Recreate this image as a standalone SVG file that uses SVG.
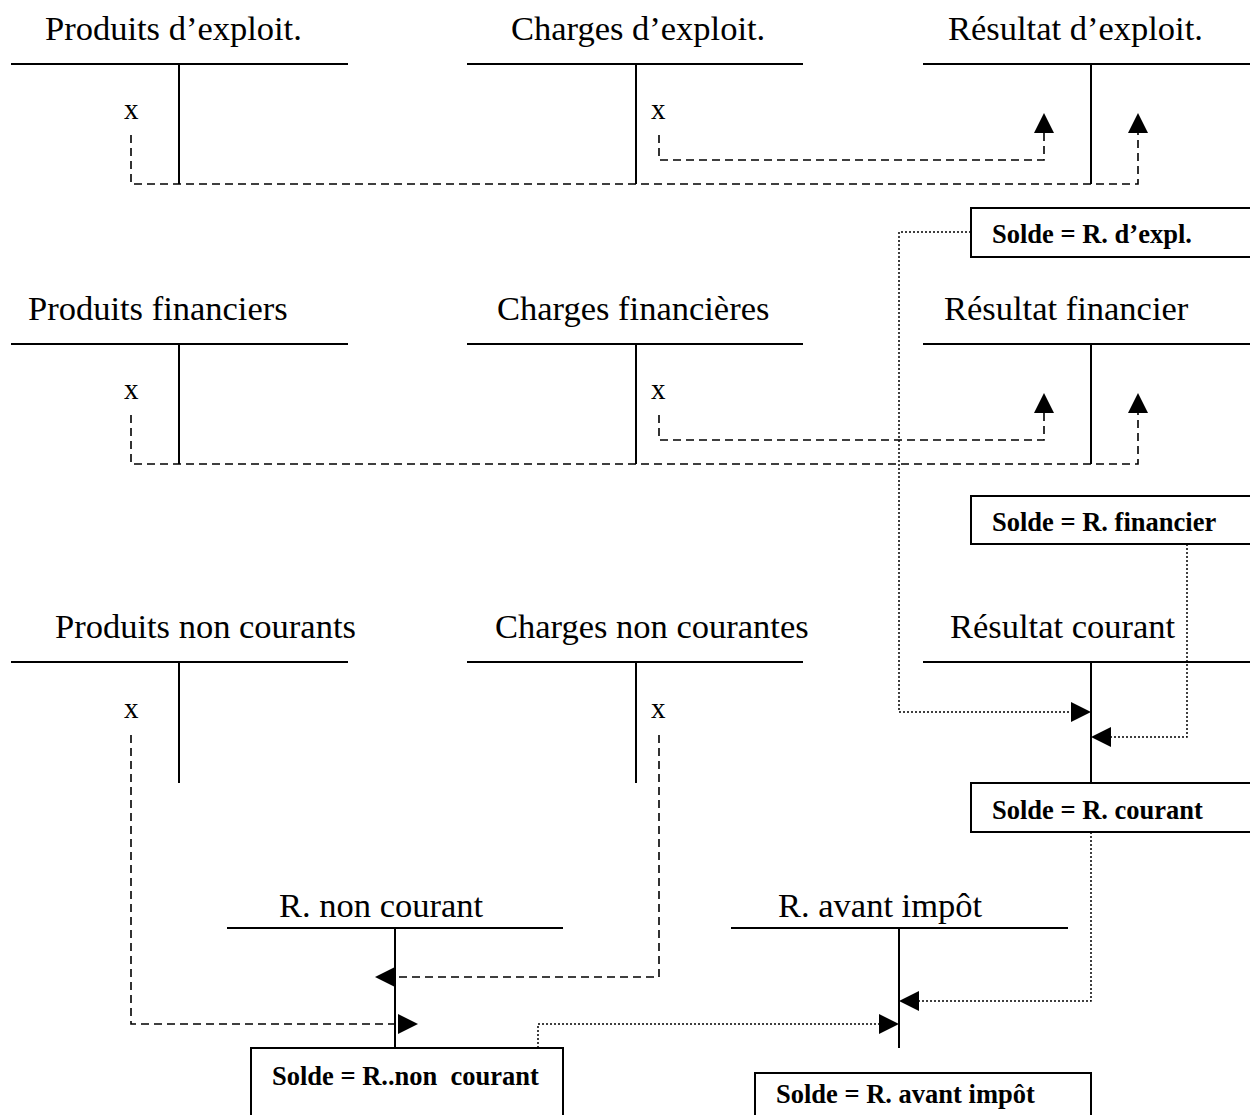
<svg xmlns="http://www.w3.org/2000/svg" width="1250" height="1115" viewBox="0 0 1250 1115">
<style>
.t{font-family:"Liberation Serif","Times New Roman",serif;font-size:34.5px;fill:#000}
.x{font-family:"Liberation Serif","Times New Roman",serif;font-size:29px;fill:#000}
.b{font-family:"Liberation Serif","Times New Roman",serif;font-size:26.5px;font-weight:bold;fill:#000;white-space:pre}
.s{stroke:#000;stroke-width:2;fill:none}
.box{stroke:#000;stroke-width:2;fill:#fff}
.d{stroke:#000;stroke-width:1.6;fill:none;stroke-dasharray:8,5}
.o{stroke:#000;stroke-width:1.5;fill:none;stroke-dasharray:2,2}
</style>
<defs>
<marker id="ar" viewBox="0 0 20 20" refX="0" refY="10" markerWidth="20" markerHeight="20" markerUnits="userSpaceOnUse" orient="auto">
<path d="M0,0 L20,10 L0,20 z" fill="#000" stroke="none"/>
</marker>
</defs>
<rect width="1250" height="1115" fill="#fff"/>

<g id="produits-exploit">
<text class="t" x="45" y="40">Produits d’exploit.</text>
<path class="s" d="M11,64 H348 M179,64 V184"/>
<text class="x" x="124" y="119">x</text>
</g>
<g id="charges-exploit">
<text class="t" x="511" y="40">Charges d’exploit.</text>
<path class="s" d="M467,64 H803 M636,64 V184"/>
<text class="x" x="651" y="119">x</text>
</g>
<g id="resultat-exploit">
<text class="t" x="948" y="40">Résultat d’exploit.</text>
<path class="s" d="M923,64 H1250 M1091,64 V184"/>
</g>
<g id="solde-expl">
<rect class="box" x="971" y="208" width="290" height="49"/>
<text class="b" x="992" y="243">Solde = R. d’expl.</text>
</g>

<g id="produits-financiers">
<text class="t" x="28" y="320">Produits financiers</text>
<path class="s" d="M11,344 H348 M179,344 V464"/>
<text class="x" x="124" y="399">x</text>
</g>
<g id="charges-financieres">
<text class="t" x="497" y="320">Charges financières</text>
<path class="s" d="M467,344 H803 M636,344 V464"/>
<text class="x" x="651" y="399">x</text>
</g>
<g id="resultat-financier">
<text class="t" x="944" y="320">Résultat financier</text>
<path class="s" d="M923,344 H1250 M1091,344 V464"/>
</g>
<g id="solde-financier">
<rect class="box" x="971" y="496" width="290" height="48"/>
<text class="b" x="992" y="531">Solde = R. financier</text>
</g>

<g id="produits-non-courants">
<text class="t" x="55" y="638">Produits non courants</text>
<path class="s" d="M11,662 H348 M179,662 V783"/>
<text class="x" x="124" y="718">x</text>
</g>
<g id="charges-non-courantes">
<text class="t" x="495" y="638">Charges non courantes</text>
<path class="s" d="M467,662 H803 M636,662 V783"/>
<text class="x" x="651" y="718">x</text>
</g>
<g id="resultat-courant">
<text class="t" x="950" y="638">Résultat courant</text>
<path class="s" d="M923,662 H1250 M1091,662 V783"/>
</g>
<g id="solde-courant">
<rect class="box" x="971" y="783" width="290" height="49"/>
<text class="b" x="992" y="819">Solde = R. courant</text>
</g>

<g id="r-non-courant">
<text class="t" x="279" y="917">R. non courant</text>
<path class="s" d="M227,928 H563 M395,928 V1048"/>
</g>
<g id="solde-non-courant">
<rect class="box" x="251" y="1048" width="312" height="80"/>
<text class="b" x="272" y="1085">Solde = R..non  courant</text>
</g>
<g id="r-avant-impot">
<text class="t" x="778" y="917">R. avant impôt</text>
<path class="s" d="M731,928 H1068 M899,928 V1048"/>
</g>
<g id="solde-avant-impot">
<rect class="box" x="755" y="1073" width="336" height="60"/>
<text class="b" x="776" y="1103">Solde = R. avant impôt</text>
</g>

<g id="connectors">
<path class="d" d="M131,135 V184 H1138 V133" marker-end="url(#ar)"/>
<path class="d" d="M659,135 V160 H1044 V133" marker-end="url(#ar)"/>
<path class="d" d="M131,415 V464 H1138 V413" marker-end="url(#ar)"/>
<path class="d" d="M659,415 V440 H1044 V413" marker-end="url(#ar)"/>
<path class="d" d="M131,735 V1024 H398" marker-end="url(#ar)"/>
<path class="d" d="M659,735 V977 H395" marker-end="url(#ar)"/>
<path class="o" d="M971,232 H899 V712 H1071" marker-end="url(#ar)"/>
<path class="o" d="M1187,544 V737 H1111" marker-end="url(#ar)"/>
<path class="o" d="M1091,832 V1001 H919" marker-end="url(#ar)"/>
<path class="o" d="M538,1048 V1024 H879" marker-end="url(#ar)"/>
</g>
</svg>
